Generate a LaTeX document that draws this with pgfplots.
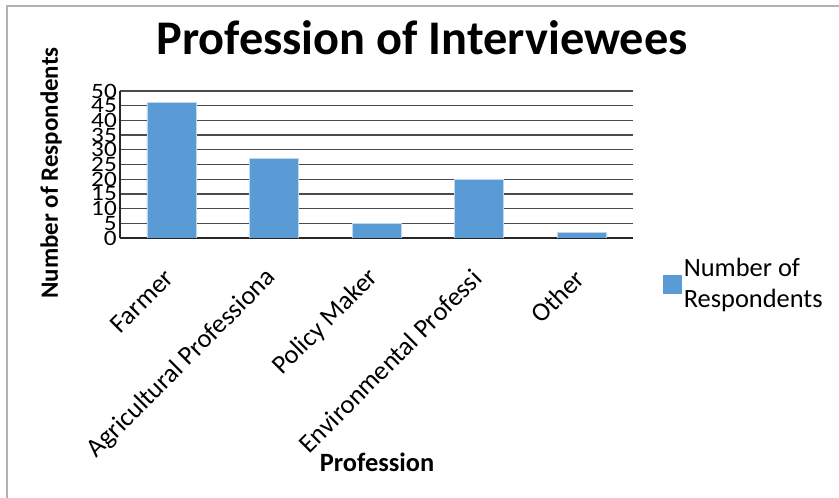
\documentclass[border=0pt]{standalone}
\usepackage{pgfplots}
\pgfplotsset{compat=1.18}
\usepackage{fontspec}
\setmainfont{Carlito}
\definecolor{barblue}{HTML}{5B9BD5}
\definecolor{gridc}{HTML}{4A4A4A}
\begin{document}
\begin{tikzpicture}[x=1bp,y=1bp]
\useasboundingbox (0,0) rectangle (839,498);
\draw[gray!60, line width=1.2bp] (7,0) -- (7,492) -- (839,492);
\node[font=\fontsize{48.5}{52}\selectfont\bfseries] at (422,460) {Profession of Interviewees};
\node[font=\fontsize{25}{28}\selectfont\bfseries, rotate=90] at (51,325) {Number of Respondents};
\node[font=\fontsize{26.5}{28}\selectfont\bfseries] at (377,36) {Profession};
\begin{axis}[
  at={(120bp,260bp)}, anchor=south west,
  scale only axis, width=513bp, height=147bp,
  xmin=-0.5, xmax=4.5, ymin=0, ymax=50,
  ytick={0,5,...,50},
  xtick=data,
  xticklabels={Farmer,Agricultural Professiona,Policy Maker,Environmental Professi,Other},
  axis lines*=left,
  axis line style={black!85, line width=1.3bp},
  major tick length=0pt,
  ymajorgrids,
  grid style={gridc, line width=1.3bp},
  /pgf/number format/assume math mode=true,
  yticklabel style={font=\fontsize{22}{22}\selectfont, inner sep=0pt, xshift=-3bp, xscale=1.15},
  xticklabel style={font=\fontsize{26.5}{26.5}\selectfont, xshift=-2bp, yshift=-36bp, rotate=45, anchor=east, inner sep=0pt},
  legend style={at={(1.0585,-0.313)}, anchor=west, draw=none, fill=none, inner sep=0pt,
    font=\fontsize{26.5}{31}\selectfont, cells={align=left}},
  legend image code/.code={\fill[barblue] (-3bp,-9bp) rectangle (15bp,9bp);},
]
\addplot[ybar, bar width=49bp, fill=barblue, draw=barblue!40!white, line width=0.6bp]
  coordinates {(0,46) (1,27) (2,5) (3,20) (4,2)};
\legend{Number of\\Respondents}
\end{axis}
\end{tikzpicture}
\end{document}
